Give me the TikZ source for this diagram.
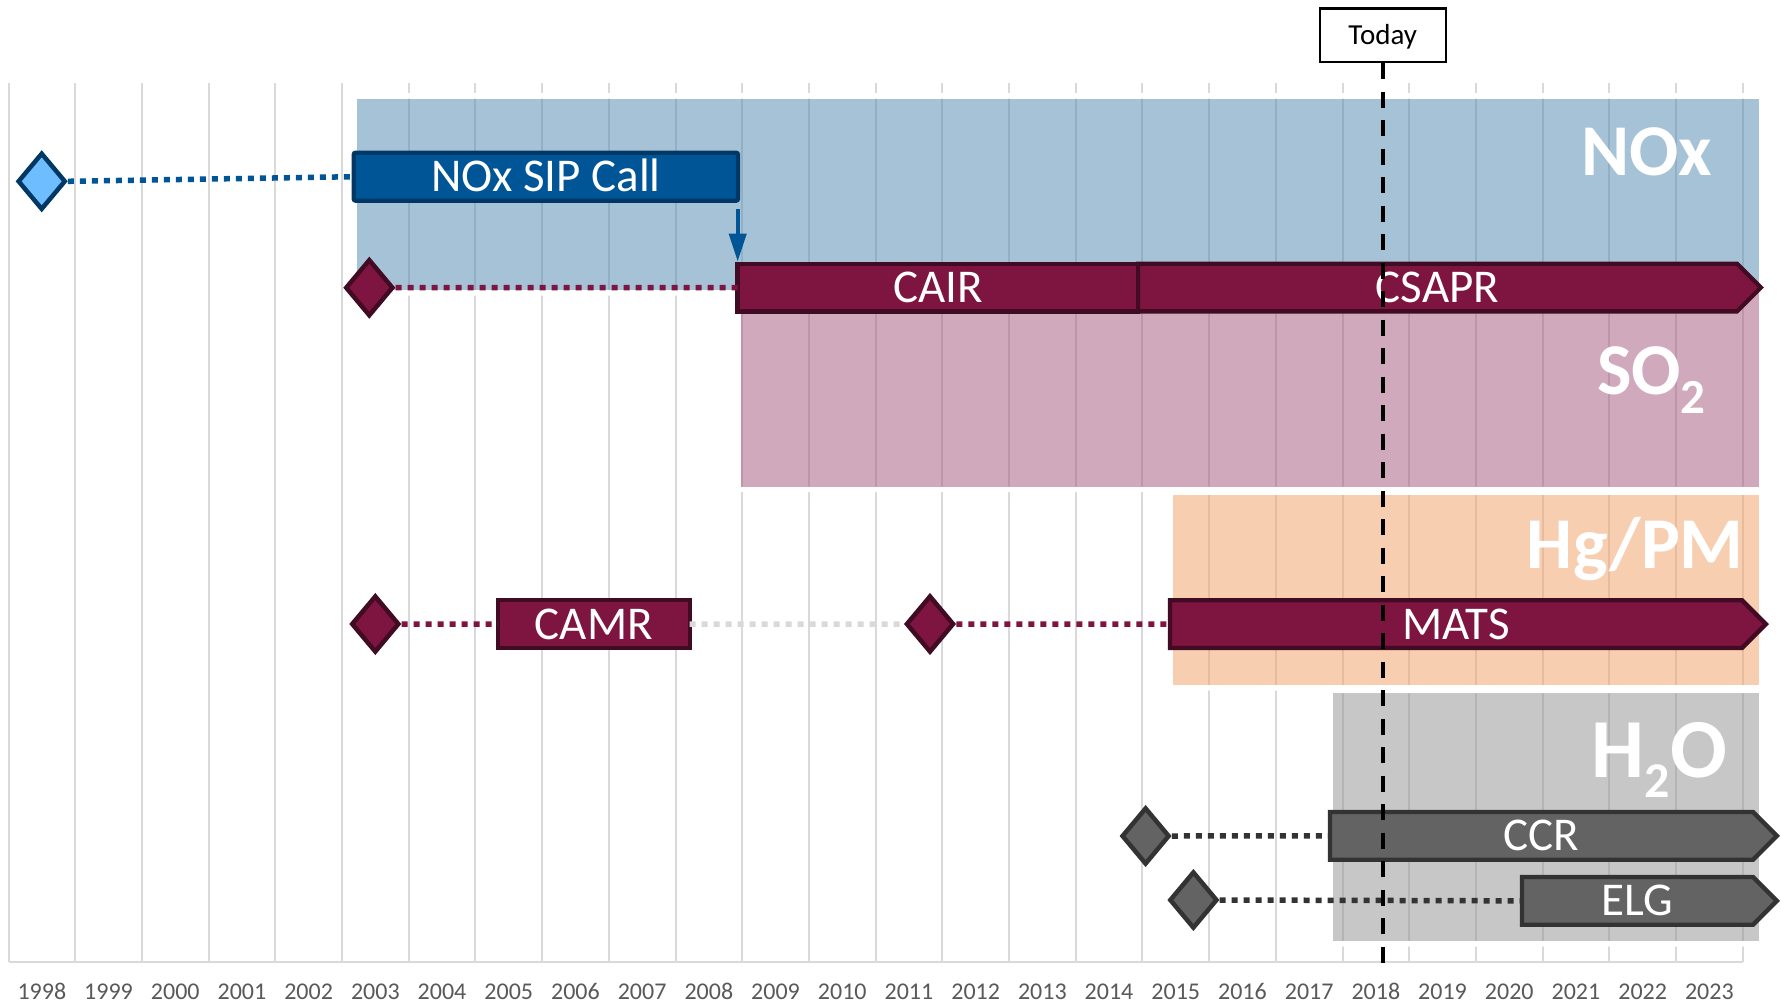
\documentclass[tikz,border=0pt]{standalone}
\usepackage{fontspec}
\setmainfont{Carlito}
\usetikzlibrary{shapes.geometric,arrows.meta,calc}
\pgfdeclarelayer{back}
\pgfdeclarelayer{mid}
\pgfsetlayers{back,mid,main}
\definecolor{sipblue}{HTML}{005596}
\definecolor{sipborder}{HTML}{003865}
\definecolor{dblue}{HTML}{6EBEFF}
\definecolor{burg}{HTML}{7E1440}
\definecolor{burgB}{HTML}{420B24}
\definecolor{gbar}{HTML}{636363}
\definecolor{gbarB}{HTML}{333333}
\definecolor{gridc}{HTML}{D9D9D9}
\definecolor{yearc}{HTML}{595959}
\definecolor{noxc}{HTML}{4F87B1}
\definecolor{soxc}{HTML}{A5557B}
\definecolor{hgc}{HTML}{F39F65}
\definecolor{h2oc}{HTML}{919191}
\tikzset{
  gridline/.style={draw=gridc, line width=2pt},
  bandfill/.style={fill opacity=0.5},
  bandlbl/.style={text=white, inner sep=0pt, anchor=base east, font=\fontsize{73}{73}\selectfont\bfseries},
  barlbl/.style={inner sep=0pt, outer sep=0pt, minimum height=47.7pt, text=white, text height=30pt, text depth=0pt, font=\fontsize{47}{47}\selectfont},
  burgbar/.style={draw=burgB, fill=burg, line width=4.3pt},
  graybar/.style={draw=gbarB, fill=gbar, line width=4.3pt},
  bluebar/.style={draw=sipborder, fill=sipblue, line width=4.3pt, rounded corners=2pt},
  milestone/.style={diamond, inner sep=0pt, minimum width=48pt, minimum height=57pt, line width=4.5pt},
  dotline/.style={line width=5.5pt, dash pattern=on 6pt off 6pt},
  yearlbl/.style={text=yearc, anchor=base, inner sep=0pt, font=\fontsize{24}{24}\selectfont},
  todaybox/.style={draw=black, line width=2.3pt, fill=white, minimum width=126pt, minimum height=53.4pt, inner sep=0pt, text height=18pt, text depth=0pt, font=\fontsize{29}{29}\selectfont},
  todayline/.style={line width=4.3pt, dash pattern=on 16pt off 12.5pt},
  flowarrow/.style={draw=sipblue, line width=4pt, -{Triangle[width=17pt,length=28pt]}}
}
\begin{document}
\begin{tikzpicture}[x=1pt,y=-1pt]
\useasboundingbox (0,0) rectangle (1781,1004);

\begin{pgfonlayer}{back}
\fill[white] (0,0) rectangle (1781,1004);
% grid and axis
\foreach \i in {0,...,26} \draw[gridline] ({8.5+66.7*\i},83) -- ({8.5+66.7*\i},962);
\draw[draw=gridc, line width=2.5pt] (8.5,962) -- (1742.7,962);
% white rings round the bands
\fill[white, even odd rule] (351.2,93) rectangle (1764.5,295.5) (356.7,98.5) rectangle (1759,290);
\fill[white, even odd rule] (735.2,284.5) rectangle (1764.5,492.2) (740.7,290) rectangle (1759,486.7);
\fill[white, even odd rule] (1167,489.5) rectangle (1764.5,690.5) (1172.5,495) rectangle (1759,685);
\fill[white, even odd rule] (1327.8,687.8) rectangle (1764.5,946.5) (1333.3,693.3) rectangle (1759,941);
% bands
\fill[noxc, bandfill] (356.7,98.5) rectangle (1759,290);
\fill[soxc, bandfill] (740.7,290) rectangle (1759,486.7);
\fill[hgc, bandfill] (1172.5,495) rectangle (1759,685);
\fill[h2oc, bandfill] (1333.3,693.3) rectangle (1759,941);
% band labels
\node[bandlbl] (lnox) at (1712,175) {NOx};
\node[bandlbl] (lso2) at (1706,394) {SO\raisebox{-19pt}{\fontsize{49}{49}\selectfont 2}};
\node[bandlbl] (lhg) at (1744,568.3) {Hg/PM};
\node[bandlbl, font=\fontsize{84}{84}\selectfont\bfseries] (lh2o) at (1727,777) {H\raisebox{-20pt}{\fontsize{50}{50}\selectfont 2}O};
\end{pgfonlayer}

% years
\foreach \i in {0,...,25} {
  \pgfmathtruncatemacro{\yr}{1998+\i}
  \node[yearlbl] (y\i) at ({8.5+66.7*(\i+0.5)},999) {\yr};
}

% bars
\node[bluebar, barlbl, minimum width=384.3pt, minimum height=48pt] (sip) at (545.85,176.7) {NOx SIP Call};
\node[burgbar, barlbl, minimum width=400.4pt] (cair) at (937.8,287.5) {CAIR};
\node[barlbl, minimum width=599pt] (csapr) at (1437.5,287.5) {CSAPR};
\node[burgbar, barlbl, minimum width=191.7pt, minimum height=48.3pt] (camr) at (593.85,624.15) {CAMR};
\node[barlbl, minimum width=572pt] (mats) at (1456,624.15) {MATS};
\node[barlbl, minimum width=423pt] (ccr) at (1541.5,835.85) {CCR};
\node[barlbl, minimum width=231pt] (elg) at (1637.5,900.85) {ELG};
\begin{pgfonlayer}{mid}
\filldraw[burgbar] (csapr.north west) -- (csapr.north east) -- ([xshift=23.85pt]csapr.east) -- (csapr.south east) -- (csapr.south west) -- cycle;
\filldraw[burgbar] (mats.north west) -- (mats.north east) -- ([xshift=23.85pt]mats.east) -- (mats.south east) -- (mats.south west) -- cycle;
\filldraw[graybar] (ccr.north west) -- (ccr.north east) -- ([xshift=23.85pt]ccr.east) -- (ccr.south east) -- (ccr.south west) -- cycle;
\filldraw[graybar] (elg.north west) -- (elg.north east) -- ([xshift=23.85pt]elg.east) -- (elg.south east) -- (elg.south west) -- cycle;
\end{pgfonlayer}

% milestones
\node[milestone, draw=sipborder, fill=dblue] (d1) at (41.7,181.3) {};
\node[milestone, draw=burgB, fill=burg] (d2) at (369.3,287.7) {};
\node[milestone, draw=burgB, fill=burg] (d3) at (375.3,624) {};
\node[milestone, draw=burgB, fill=burg] (d4) at (930,624) {};
\node[milestone, draw=gbarB, fill=gbar] (d5) at (1145.6,836) {};
\node[milestone, draw=gbarB, fill=gbar] (d6) at (1193.4,900) {};

% connectors
\draw[dotline, draw=sipblue] (d1.east) -- (sip.west);
\draw[dotline, draw=burg] (d2.east) -- (cair.west);
\draw[dotline, draw=burg] (d3.east) -- (camr.west);
\draw[dotline, draw=gridc] (camr.east) -- (d4.west);
\draw[dotline, draw=burg] (d4.east) -- (mats.west);
\draw[dotline, draw=gbarB] (d5.east) -- (ccr.west);
\draw[dotline, draw=gbarB] (d6.east) -- (elg.west);
\draw[flowarrow, shorten >=2pt] ([xshift=-0.3pt,yshift=-8.3pt]sip.south east) -- ([xshift=-0.3pt]sip.south east |- cair.north);

% today
\node[todaybox] (today) at (1382.75,35.3) {Today};
\coordinate (todayend) at (1382.75,965);
\draw[todayline] (today.south) -- (todayend);
\end{tikzpicture}
\end{document}
